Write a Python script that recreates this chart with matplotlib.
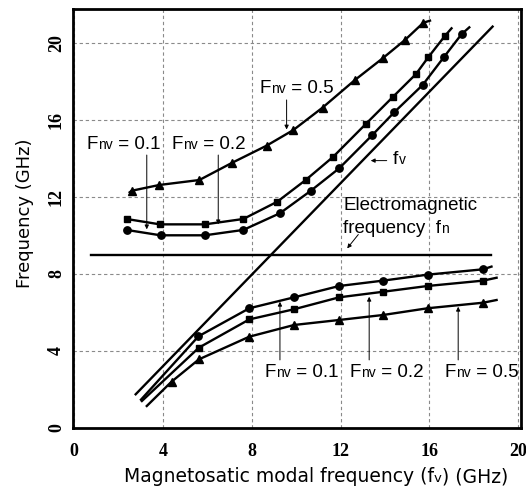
import matplotlib
matplotlib.use("Agg")
import matplotlib.pyplot as plt
from matplotlib.transforms import offset_copy

# ---- data (GHz) ----
# straight line f = fv and the electromagnetic frequency fn
fv_line_x = [2.77, 18.85]
fv_line_y = [1.73, 20.88]
fn_x = [0.74, 18.8]
fn_level = 8.98

# upper branch, Fnv = 0.1 / 0.2 / 0.5 (markers)
up01_x = [2.36, 3.89, 5.89, 7.62, 9.27, 10.65, 11.94, 13.43, 14.42, 15.70, 16.67, 17.45]
up01_y = [10.29, 10.01, 10.01, 10.29, 11.16, 12.32, 13.50, 15.23, 16.42, 17.84, 19.31, 20.48]
up02_x = [2.36, 3.86, 5.89, 7.62, 9.15, 10.43, 11.67, 13.14, 14.37, 15.40, 15.95, 16.70]
up02_y = [10.86, 10.58, 10.58, 10.86, 11.76, 12.89, 14.10, 15.81, 17.23, 18.41, 19.28, 20.39]
up05_x = [2.59, 3.83, 5.64, 7.12, 8.67, 9.87, 11.19, 12.65, 13.90, 14.90, 15.73]
up05_y = [12.33, 12.63, 12.89, 13.79, 14.68, 15.49, 16.66, 18.10, 19.23, 20.18, 21.08]

# lower branch, Fnv = 0.1 / 0.2 / 0.5 (markers)
lo01_x = [5.60, 7.89, 9.91, 11.94, 13.92, 15.92, 18.43]
lo01_y = [4.75, 6.21, 6.78, 7.37, 7.65, 7.96, 8.24]
lo02_x = [5.62, 7.89, 9.91, 11.94, 13.92, 15.92, 18.43]
lo02_y = [4.16, 5.63, 6.16, 6.78, 7.07, 7.37, 7.65]
lo05_x = [4.39, 5.62, 7.89, 9.91, 11.94, 13.92, 15.92, 18.43]
lo05_y = [2.39, 3.55, 4.73, 5.34, 5.60, 5.86, 6.21, 6.50]

# where the drawn curves start / stop beyond the markers (None = at marker)
up01_ends = (None, (17.80, 20.84))
up02_ends = (None, (17.00, 20.79))
up05_ends = ((2.50, 12.25), (16.03, 21.19))
lo01_ends = ((3.01, 1.45), (18.80, 8.38))
lo02_ends = ((3.05, 1.38), (19.03, 7.80))
lo05_ends = ((3.27, 1.12), (19.03, 6.64))

ticks = [0, 4, 8, 12, 16, 20]
tick_labels = ["0", "4", "8", "12", "16", "20"]

W, H, DPI = 526, 490, 100
LABEL_FONT = "Liberation Sans"

fig = plt.figure(figsize=(W / DPI, H / DPI), dpi=DPI)
ax = fig.add_axes([73.3 / W, 1 - 427.5 / H, (521 - 73.3) / W, (427.5 - 9.5) / H])
ax.set_xlim(-0.04, 20.13)
ax.set_ylim(0, 21.77)


def curve(xs, ys, ends, marker, ms):
    lx, ly = list(xs), list(ys)
    start, stop = ends
    if start is not None:
        lx.insert(0, start[0]); ly.insert(0, start[1])
    if stop is not None:
        lx.append(stop[0]); ly.append(stop[1])
    first = 1 if start is not None else 0
    ax.plot(lx, ly, color="black", lw=1.7, marker=marker, ms=ms,
            markevery=list(range(first, first + len(xs))), zorder=3)


curve(up01_x, up01_y, up01_ends, "o", 5.3)
curve(up02_x, up02_y, up02_ends, "s", 4.6)
curve(up05_x, up05_y, up05_ends, "^", 5.4)
curve(lo01_x, lo01_y, lo01_ends, "o", 5.3)
curve(lo02_x, lo02_y, lo02_ends, "s", 4.6)
curve(lo05_x, lo05_y, lo05_ends, "^", 5.4)

ax.plot(fv_line_x, fv_line_y, color="black", lw=1.7, zorder=3)
ax.plot(fn_x, [fn_level, fn_level], color="black", lw=1.7, zorder=3)

# grid and frame
ax.set_xticks(ticks)
ax.set_yticks(ticks)
ax.grid(True, color="#8a8a8a", lw=0.8, linestyle=(0, (3, 2.5)))
ax.tick_params(axis="x", length=0, pad=11)
ax.tick_params(axis="y", length=0, pad=6)
for s in ax.spines.values():
    s.set_linewidth(2.0)
ax.set_xticklabels(tick_labels, fontfamily="Liberation Serif", fontweight="bold", fontsize=13)
ax.set_yticklabels(tick_labels, fontfamily="Liberation Serif", fontweight="bold", fontsize=13,
                   rotation=90, va="center")


def text_width(s, **kw):
    t = fig.text(0, 0, s, **kw)
    w = t.get_window_extent(fig.canvas.get_renderer()).width
    t.remove()
    return w * 72 / DPI


def mixed_text(x, y, pieces, transform, ha="left", family=LABEL_FONT):
    widths = [text_width(s, fontsize=size, family=family) for s, size in pieces]
    dx = -sum(widths) / 2 if ha == "center" else 0
    for (s, size), w in zip(pieces, widths):
        fig.text(x, y, s, fontsize=size, family=family, ha="left", va="baseline",
                 transform=offset_copy(transform, fig=fig, x=dx, y=0, units="points"))
        dx += w


def fnv_label(x, y, value):
    mixed_text(x, y, [("F", 13.5), ("nv", 10), (" = " + value, 13.5)], ax.transData)


def arrow(tail, tip):
    ax.annotate("", xy=tip, xytext=tail,
                arrowprops=dict(arrowstyle="-|>", lw=0.7, color="black",
                                mutation_scale=6, shrinkA=0, shrinkB=0))


# labels for the upper branch
fnv_label(8.37, 17.41, "0.5")
arrow((9.57, 17.06), (9.57, 15.52))
fnv_label(0.56, 14.49, "0.1")
arrow((3.27, 14.19), (3.27, 10.32))
fnv_label(4.39, 14.49, "0.2")
arrow((6.49, 14.19), (6.49, 10.58))

# labels for the lower branch
fnv_label(8.59, 2.61, "0.1")
arrow((9.27, 3.52), (9.27, 6.55))
fnv_label(12.42, 2.61, "0.2")
arrow((13.29, 3.52), (13.29, 6.81))
fnv_label(16.70, 2.61, "0.5")
arrow((17.30, 3.52), (17.30, 6.29))

# fv and fn annotations
mixed_text(14.37, 13.72, [("f", 14), ("v", 10)], ax.transData)
arrow((14.08, 13.9), (13.36, 13.9))
ax.text(12.12, 11.33, "Electromagnetic", fontsize=13.5, family=LABEL_FONT, va="baseline")
mixed_text(12.12, 10.11, [("frequency  f", 13.5), ("n", 10)], ax.transData)
arrow((12.8, 10.05), (12.3, 9.33))

# axis titles
mixed_text(316 / W, 1 - 482 / H,
           [("Magnetosatic modal frequency (f", 13.5), ("v", 9.5), (") (GHz)", 13.5)],
           fig.transFigure, ha="center", family="DejaVu Sans")
fig.text(25 / W, 1 - 213 / H, "Frequency (GHz)", rotation=90, ha="center", va="center",
         fontsize=13, family="DejaVu Sans")

fig.savefig("out.png", dpi=DPI)
